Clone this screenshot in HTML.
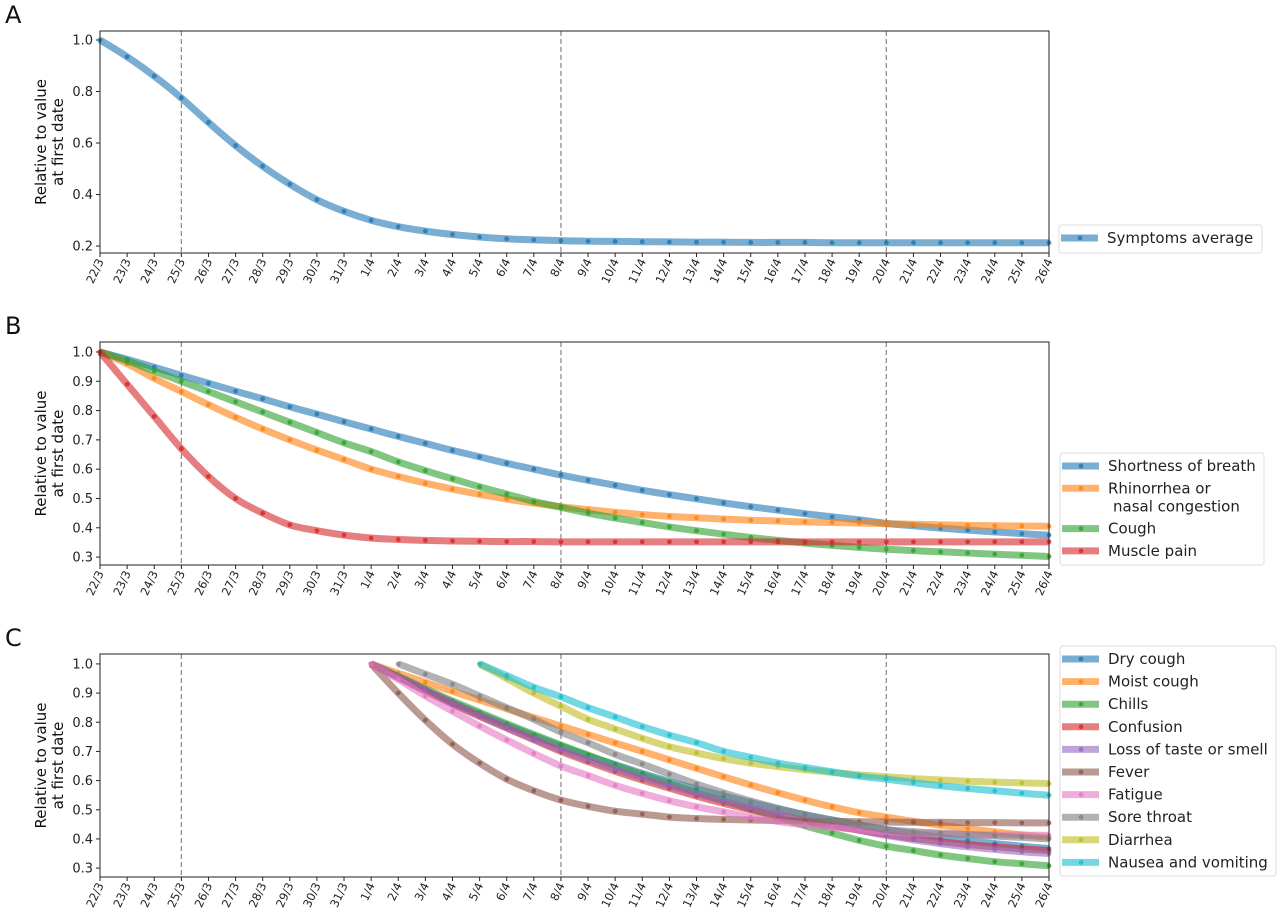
<!DOCTYPE html>
<html><head><meta charset="utf-8"><style>
body{margin:0;background:#fff;}
svg{display:block;font-family:"DejaVu Sans","Liberation Sans",sans-serif;}
</style></head><body>
<svg id="fig" width="1280" height="916"></svg>
<script>
const dates=["22/3","23/3","24/3","25/3","26/3","27/3","28/3","29/3","30/3","31/3","1/4","2/4","3/4","4/4","5/4","6/4","7/4","8/4","9/4","10/4","11/4","12/4","13/4","14/4","15/4","16/4","17/4","18/4","19/4","20/4","21/4","22/4","23/4","24/4","25/4","26/4"];
const dashedIdx=[3,17,29];
const ticksA=[0.2,0.4,0.6,0.8,1.0];
const ticksBC=[0.3,0.4,0.5,0.6,0.7,0.8,0.9,1.0];
// Panel A
const symptomsAverage=[1.0,.935,.86,.775,.68,.59,.51,.44,.38,.335,.30,.275,.258,.245,.235,.228,.224,.221,.219,.218,.217,.216,.215,.215,.214,.214,.214,.213,.213,.213,.213,.213,.213,.213,.213,.213];
// Panel B
const shortnessOfBreath=[1.0,.975,.948,.92,.893,.866,.84,.813,.788,.762,.737,.712,.688,.664,.642,.62,.6,.58,.562,.545,.528,.513,.499,.485,.472,.46,.448,.437,.427,.415,.407,.399,.392,.386,.38,.375];
const rhinorrhea=[1.0,.96,.91,.865,.82,.777,.737,.70,.665,.633,.60,.575,.552,.532,.514,.498,.484,.472,.462,.453,.445,.439,.434,.43,.426,.423,.42,.418,.416,.414,.412,.41,.408,.407,.406,.405];
const cough=[1.0,.97,.935,.90,.865,.83,.795,.76,.725,.69,.66,.625,.595,.567,.54,.515,.49,.47,.45,.433,.418,.403,.39,.378,.367,.357,.348,.34,.333,.327,.322,.318,.314,.31,.306,.302];
const musclePain=[1.0,.89,.78,.67,.575,.50,.45,.41,.39,.375,.365,.36,.357,.355,.354,.353,.353,.352,.352,.352,.352,.352,.352,.352,.352,.352,.352,.352,.352,.352,.352,.352,.352,.352,.352,.352];
// Panel C (null = no data)
const N=null;
const dryCough=[N,N,N,N,N,N,N,N,N,N,1.0,.955,.91,.868,.828,.79,.753,.718,.685,.655,.625,.597,.572,.548,.525,.503,.483,.465,.448,.432,.418,.405,.394,.384,.375,.367];
const moistCough=[N,N,N,N,N,N,N,N,N,N,1.0,.968,.937,.906,.876,.846,.816,.787,.758,.729,.70,.671,.642,.613,.585,.558,.533,.51,.49,.475,.46,.447,.435,.424,.414,.405];
const chills=[N,N,N,N,N,N,N,N,N,N,1.0,.958,.915,.873,.834,.795,.758,.722,.687,.652,.62,.59,.56,.532,.503,.475,.445,.42,.395,.375,.36,.345,.333,.322,.315,.308];
const confusion=[N,N,N,N,N,N,N,N,N,N,1.0,.953,.907,.862,.82,.78,.74,.70,.665,.632,.602,.574,.547,.522,.5,.48,.462,.445,.43,.415,.402,.391,.381,.373,.366,.36];
const lossTasteSmell=[N,N,N,N,N,N,N,N,N,N,1.0,.955,.91,.865,.823,.782,.743,.706,.672,.64,.61,.582,.555,.53,.507,.485,.465,.447,.43,.412,.397,.384,.373,.364,.356,.35];
const fever=[N,N,N,N,N,N,N,N,N,N,1.0,.90,.807,.725,.66,.605,.565,.533,.512,.495,.485,.475,.47,.467,.465,.463,.461,.46,.459,.458,.457,.457,.456,.456,.455,.455];
const fatigue=[N,N,N,N,N,N,N,N,N,N,1.0,.947,.89,.838,.787,.739,.693,.65,.617,.584,.556,.531,.51,.493,.475,.46,.448,.44,.432,.425,.42,.417,.415,.414,.413,.412];
const soreThroat=[N,N,N,N,N,N,N,N,N,N,N,1.0,.965,.93,.89,.85,.81,.766,.73,.69,.657,.622,.588,.558,.53,.505,.483,.465,.448,.432,.425,.42,.415,.41,.405,.40];
const diarrhea=[N,N,N,N,N,N,N,N,N,N,N,N,N,N,1.0,.95,.90,.855,.81,.777,.745,.716,.695,.675,.66,.648,.637,.628,.62,.613,.607,.602,.598,.595,.592,.59];
const nausea=[N,N,N,N,N,N,N,N,N,N,N,N,N,N,1.0,.96,.92,.887,.85,.818,.785,.756,.73,.70,.68,.66,.645,.63,.615,.605,.593,.582,.573,.565,.557,.55];

const C={blue:"#1f77b4",orange:"#ff7f0e",green:"#2ca02c",red:"#d62728",purple:"#9467bd",brown:"#8c564b",pink:"#e377c2",gray:"#7f7f7f",olive:"#bcbd22",cyan:"#17becf"};
const NS="http://www.w3.org/2000/svg";
const svg=document.getElementById('fig');
function mk(tag,attrs,parent){const e=document.createElementNS(NS,tag);for(const k in attrs)e.setAttribute(k,attrs[k]);(parent||svg).appendChild(e);return e;}
const X0=100,X1=1049;
function xScale(i){return X0+(X1-X0)*i/(dates.length-1);}
function smoothPath(pts){
  if(pts.length<2)return "";
  let d="M"+pts[0][0].toFixed(1)+","+pts[0][1].toFixed(1);
  for(let i=0;i<pts.length-1;i++){
    const p0=pts[i-1]||pts[i],p1=pts[i],p2=pts[i+1],p3=pts[i+2]||p2;
    const c1x=p1[0]+(p2[0]-p0[0])/6,c1y=p1[1]+(p2[1]-p0[1])/6;
    const c2x=p2[0]-(p3[0]-p1[0])/6,c2y=p2[1]-(p3[1]-p1[1])/6;
    d+="C"+c1x.toFixed(1)+","+c1y.toFixed(1)+" "+c2x.toFixed(1)+","+c2y.toFixed(1)+" "+p2[0].toFixed(1)+","+p2[1].toFixed(1);
  }
  return d;
}

const panels=[
 {letter:"A",top:31,bot:253,vTop:1.035,vBot:0.173,ticks:ticksA,
  series:[["Symptoms average",symptomsAverage,C.blue]],
  legend:{x:1059,y:225,w:203,h:28,step:22.6}},
 {letter:"B",top:342,bot:565,vTop:1.034,vBot:0.273,ticks:ticksBC,
  series:[["Shortness of breath",shortnessOfBreath,C.blue],["Rhinorrhea or|nasal congestion",rhinorrhea,C.orange],["Cough",cough,C.green],["Muscle pain",musclePain,C.red]],
  legend:{x:1060,y:453,w:204,h:112,step:22.3,lh:18}},
 {letter:"C",top:654,bot:877,vTop:1.034,vBot:0.2695,ticks:ticksBC,
  series:[["Dry cough",dryCough,C.blue],["Moist cough",moistCough,C.orange],["Chills",chills,C.green],["Confusion",confusion,C.red],["Loss of taste or smell",lossTasteSmell,C.purple],["Fever",fever,C.brown],["Fatigue",fatigue,C.pink],["Sore throat",soreThroat,C.gray],["Diarrhea",diarrhea,C.olive],["Nausea and vomiting",nausea,C.cyan]],
  legend:{x:1060,y:646,w:216,h:230,step:22.6}}
];

panels.forEach((p,pi)=>{
  const g=mk('g',{});
  
  
  const yScale=v=>p.top+(p.vTop-v)/(p.vTop-p.vBot)*(p.bot-p.top);
  const lt=mk('text',{x:5,y:p.top-8,'font-size':24,fill:'#111'},g);lt.textContent=p.letter;
  
  const cy=(p.top+p.bot)/2;
  const yl=mk('text',{transform:`translate(46,${cy}) rotate(-90)`,'font-size':15,'text-anchor':'middle',fill:'#111'},g);
  
  const t1=mk('tspan',{x:0,dy:0},yl);t1.textContent="Relative to value";
  const t2=mk('tspan',{x:0,dy:17},yl);t2.textContent="at first date";
  dashedIdx.forEach(i=>{const l=mk('line',{x1:xScale(i),x2:xScale(i),y1:p.top,y2:p.bot,stroke:'#888','stroke-width':1.2,'stroke-dasharray':'5,3'},g);
    });
  p.ticks.forEach(v=>{const y=yScale(v);
    mk('line',{x1:X0-4,x2:X0,y1:y,y2:y,stroke:'#222','stroke-width':1},g);
    const t=mk('text',{x:X0-7,y:y+4.5,'font-size':13,'text-anchor':'end',fill:'#222'},g);
    
    t.textContent=v.toFixed(1);});
  dates.forEach((d,i)=>{const x=xScale(i);
    mk('line',{x1:x,x2:x,y1:p.bot,y2:p.bot+4,stroke:'#222','stroke-width':1},g);
    const t=mk('text',{transform:`translate(${x+4},${p.bot+8}) rotate(-65)`,'font-size':11.5,'text-anchor':'end',fill:'#222'},g);
    
    t.textContent=d;});
  p.series.forEach(([name,vals,col])=>{
    const pts=[];
    vals.forEach((v,i)=>{if(v===null)return;pts.push([xScale(i),yScale(v)]);});
    const path=mk('path',{d:smoothPath(pts),fill:'none',stroke:col,'stroke-width':7,'stroke-opacity':0.6,'stroke-linejoin':'round','stroke-linecap':'butt'},g);
    
    vals.forEach((v,i)=>{if(v===null)return;
      const c=mk('circle',{cx:xScale(i),cy:yScale(v),r:2.4,fill:col,'fill-opacity':0.8},g);
      });
  });
  const fr=mk('rect',{x:X0,y:p.top,width:X1-X0,height:p.bot-p.top,fill:'none',stroke:'#222','stroke-width':1},g);
  
  const L=p.legend;
  const lg=mk('g',{},g);
  mk('rect',{x:L.x,y:L.y,width:L.w,height:L.h,rx:3,fill:'#fff',stroke:'#ddd','stroke-width':1},lg);
  let yy=L.y+13;
  const lh=L.lh||19;
  p.series.forEach(([name,vals,col])=>{
    const e=mk('g',{},lg);
    const lines=name.split('|');
    const hy=yy;
    mk('line',{x1:L.x+2,x2:L.x+39,y1:hy,y2:hy,stroke:col,'stroke-width':7,'stroke-opacity':0.6},e);
    mk('circle',{cx:L.x+21,cy:hy,r:2.4,fill:col,'fill-opacity':0.8},e);
    lines.forEach((ln,k)=>{const t=mk('text',{x:L.x+48+(k?5:0),y:hy+5+k*lh,'font-size':15,fill:'#222'},e);t.textContent=ln;});
    yy+=L.step+(lines.length-1)*lh;
  });
});
</script>
</body></html>
